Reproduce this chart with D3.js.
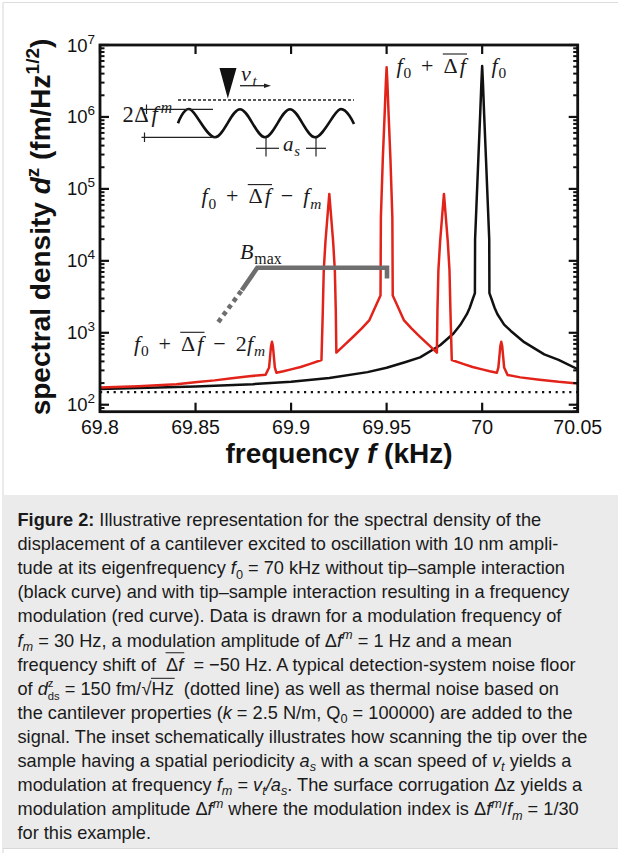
<!DOCTYPE html>
<html><head><meta charset="utf-8">
<script src="https://cdn.jsdelivr.net/npm/d3@7"></script>
<style>
body{margin:0;background:#fff;}
svg{display:block;}
text{white-space:pre;}
</style></head>
<body>
<svg id="chart" width="618" height="853"></svg>
<script>
// ---------------- data ----------------
const xDomain = [69.8, 70.05];
const yDomain = [80, 1e7];
const xTicks = [69.8, 69.85, 69.9, 69.95, 70, 70.05];
const xTickLabels = ["69.8", "69.85", "69.9", "69.95", "70", "70.05"];
const yTickExps = [2, 3, 4, 5, 6, 7];
const noiseFloor = 150;

// black curve: without tip-sample interaction
const blackF = [69.800, 69.850, 69.880, 69.900, 69.920, 69.940, 69.950, 69.960, 69.9675, 69.978, 69.985, 69.9885,
  69.992, 69.9935, 69.995, 69.9962, 69.9963, 69.997, 69.998, 69.999, 69.9996, 70.000, 70.0004, 70.001, 70.002,
  70.003, 70.0037, 70.0038, 70.005, 70.0065, 70.008, 70.0115, 70.015, 70.022, 70.0325, 70.040, 70.050];
const blackD = [166, 179, 193, 209, 235, 284, 326, 392, 455, 670, 978, 1280,
  1812, 2230, 2900, 3560, 20000, 57500, 260000, 1150000, 3000000, 5100000, 3000000, 1150000, 260000,
  57500, 20000, 3560, 2900, 2230, 1812, 1300, 1060, 740, 500, 420, 312];

// red curve: with frequency modulation
const redF = [69.800, 69.820, 69.840, 69.851, 69.860, 69.869, 69.878, 69.8867,
  69.8885, 69.8895, 69.8900, 69.8905, 69.8915, 69.8923,
  69.8960, 69.9000, 69.9050, 69.9100, 69.9159,
  69.9166, 69.9171, 69.9180, 69.9190, 69.9200, 69.9210, 69.9220, 69.9229, 69.9234, 69.9237,
  69.9280, 69.9325, 69.9370, 69.9410, 69.9450, 69.9468,
  69.9470, 69.9480, 69.9490, 69.9496, 69.9500, 69.9504, 69.9510, 69.9520, 69.9530, 69.9532,
  69.9550, 69.9590, 69.9630, 69.9675, 69.9720, 69.9763,
  69.9766, 69.9771, 69.9780, 69.9790, 69.9800, 69.9810, 69.9820, 69.9829, 69.9834, 69.9841,
  69.9900, 69.9950, 70.0000, 70.0040, 70.0077,
  70.0085, 70.0095, 70.0100, 70.0105, 70.0115, 70.0133,
  70.0200, 70.0300, 70.0400, 70.0500];
const redD = [174, 181, 193, 207, 218, 233, 248, 262,
  330, 650, 751, 650, 330, 278,
  292, 310, 335, 370, 418,
  2000, 7400, 18600, 40000, 85000, 40000, 18600, 7400, 2000, 530,
  680, 880, 1150, 1500, 2600, 3300,
  40000, 260000, 1150000, 3000000, 4900000, 3000000, 1150000, 260000, 40000, 3300,
  2600, 1500, 1150, 880, 680, 530,
  2000, 7400, 18600, 40000, 85000, 40000, 18600, 7400, 2000, 418,
  370, 335, 310, 292, 278,
  330, 650, 751, 650, 330, 259,
  240, 222, 208, 198];

// B_max bracket (annotation, in data units)
const bmaxSolidF = [69.8742, 69.8823, 69.9502, 69.9502];
const bmaxSolidD = [3900, 8000, 8000, 5700];
const bmaxDotF = [69.8619, 69.8742];
const bmaxDotD = [1410, 3900];

// ---------------- drawing ----------------
const SANS = "'Liberation Sans', Arial, Helvetica, sans-serif";
const SERIF = "'Liberation Serif', 'Times New Roman', serif";
const RED = "#e2231a";
const svg = d3.select("#chart");

// page frame and caption box
svg.append("rect").attr("x", 0).attr("y", 0).attr("width", 618).attr("height", 853).attr("fill", "#fff");
svg.append("line").attr("x1", 3).attr("x2", 618).attr("y1", 2.5).attr("y2", 2.5).attr("stroke", "#dcdcdc").attr("stroke-width", 1.2);
svg.append("line").attr("x1", 3).attr("x2", 3).attr("y1", 2.5).attr("y2", 853).attr("stroke", "#dcdcdc").attr("stroke-width", 1.2);
svg.append("rect").attr("x", 3.5).attr("y", 495).attr("width", 615).attr("height", 353).attr("fill", "#ebebeb");
svg.append("line").attr("x1", 3).attr("x2", 618).attr("y1", 848.5).attr("y2", 848.5).attr("stroke", "#d8d8d8").attr("stroke-width", 1);

const x = d3.scaleLinear().domain(xDomain).range([100, 577.7]);
const y = d3.scaleLog().domain(yDomain).range([411.7, 45]);
const [X0, X1] = x.range();
const [Y0, Y1] = y.range();

svg.append("clipPath").attr("id", "clip").append("rect")
  .attr("x", X0).attr("y", Y1).attr("width", X1 - X0).attr("height", Y0 - Y1);

const plot = svg.append("g").attr("clip-path", "url(#clip)");

// noise floor dotted line
plot.append("line").attr("x1", X0).attr("x2", X1).attr("y1", y(noiseFloor)).attr("y2", y(noiseFloor))
  .attr("stroke", "#111").attr("stroke-width", 2.2).attr("stroke-dasharray", "2.2 4.6");

const line = d3.line().x(d => x(d[0])).y(d => y(d[1]));
plot.append("path").datum(d3.zip(blackF, blackD)).attr("d", line)
  .attr("fill", "none").attr("stroke", "#111").attr("stroke-width", 2.5).attr("stroke-linejoin", "round");
plot.append("path").datum(d3.zip(redF, redD)).attr("d", line)
  .attr("fill", "none").attr("stroke", RED).attr("stroke-width", 2.5).attr("stroke-linejoin", "round");

// B_max annotation
svg.append("path").datum(d3.zip(bmaxSolidF, bmaxSolidD)).attr("d", line)
  .attr("fill", "none").attr("stroke", "#6e6e6e").attr("stroke-width", 4.6).attr("stroke-linejoin", "miter");
svg.append("path").datum(d3.zip(bmaxDotF, bmaxDotD)).attr("d", line)
  .attr("fill", "none").attr("stroke", "#6e6e6e").attr("stroke-width", 4.6).attr("stroke-dasharray", "4.5 4");

// axes frame and ticks
const ax = svg.append("g");
const minorVals = [];
for (let e = 1; e <= 6; e++) for (let m = 2; m <= 9; m++) {
  const v = m * Math.pow(10, e);
  if (v >= yDomain[0] && v <= yDomain[1]) minorVals.push(v);
}
minorVals.forEach(v => {
  ax.append("line").attr("x1", X0).attr("x2", X0 + 4.5).attr("y1", y(v)).attr("y2", y(v)).attr("stroke", "#111").attr("stroke-width", 2);
  ax.append("line").attr("x1", X1).attr("x2", X1 - 4.5).attr("y1", y(v)).attr("y2", y(v)).attr("stroke", "#111").attr("stroke-width", 2);
});
yTickExps.forEach(e => {
  const v = Math.pow(10, e);
  ax.append("line").attr("x1", X0).attr("x2", X0 + 9).attr("y1", y(v)).attr("y2", y(v)).attr("stroke", "#111").attr("stroke-width", 2.2);
  ax.append("line").attr("x1", X1).attr("x2", X1 - 9).attr("y1", y(v)).attr("y2", y(v)).attr("stroke", "#111").attr("stroke-width", 2.2);
  const t = ax.append("text").attr("x", 95).attr("y", y(v) + 6.5).attr("text-anchor", "end")
    .attr("font-family", SANS).attr("font-size", 18.5).attr("fill", "#111");
  t.append("tspan").text("10");
  t.append("tspan").attr("dy", -8).attr("font-size", 13.5).text(String(e));
});
xTicks.forEach((v, i) => {
  ax.append("line").attr("x1", x(v)).attr("x2", x(v)).attr("y1", Y0).attr("y2", Y0 - 9).attr("stroke", "#111").attr("stroke-width", 2.2);
  ax.append("line").attr("x1", x(v)).attr("x2", x(v)).attr("y1", Y1).attr("y2", Y1 + 9).attr("stroke", "#111").attr("stroke-width", 2.2);
  ax.append("text").attr("x", x(v)).attr("y", 434).attr("text-anchor", "middle")
    .attr("font-family", SANS).attr("font-size", 19.5).attr("fill", "#111").text(xTickLabels[i]);
});
ax.append("rect").attr("x", X0).attr("y", Y1).attr("width", X1 - X0).attr("height", Y0 - Y1)
  .attr("fill", "none").attr("stroke", "#111").attr("stroke-width", 2.8);

// axis titles
const xt = svg.append("text").attr("x", 339).attr("y", 463).attr("text-anchor", "middle")
  .attr("font-family", SANS).attr("font-weight", "bold").attr("font-size", 28).attr("fill", "#111");
xt.append("tspan").text("frequency ");
xt.append("tspan").attr("font-style", "italic").text("f");
xt.append("tspan").text(" (kHz)");

const yt = svg.append("text").attr("transform", "translate(50,227) rotate(-90)").attr("text-anchor", "middle")
  .attr("font-family", SANS).attr("font-weight", "bold").attr("font-size", 28).attr("fill", "#111");
yt.append("tspan").text("spectral density ");
yt.append("tspan").attr("font-style", "italic").text("d");
yt.append("tspan").attr("dy", -11).attr("font-size", 19).text("z");
yt.append("tspan").attr("dy", 11).text(" (fm/Hz");
yt.append("tspan").attr("dy", -11).attr("font-size", 19).text("1/2");
yt.append("tspan").attr("dy", 11).text(")");

// ---------------- math label helper ----------------
function mathLabel(g, x0, y0, parts, base, family, color) {
  let cx = x0, ovStart = null;
  parts.forEach(p => {
    cx += (p.gap || 0) * base;
    const small = p.sub || p.sup;
    const size = small ? base * (p.scale || 0.7) : base * (p.scale || 1);
    let dy = p.sub ? base * 0.24 : p.sup ? -base * 0.4 : 0;
    if (p.dyo !== undefined) dy = base * p.dyo;
    const t = g.append("text").attr("x", cx).attr("y", y0 + dy)
      .attr("font-family", p.family || family).attr("font-size", size)
      .attr("font-style", p.i ? "italic" : "normal").attr("font-weight", p.b ? "bold" : "normal")
      .attr("fill", color).text(p.t);
    const w = t.node().getComputedTextLength();
    if (p.ov === "s" || p.ov === "b") ovStart = cx;
    if (p.ov === "e" || p.ov === "b") {
      g.append("line").attr("x1", ovStart - base * 0.03).attr("x2", cx + w + base * 0.05)
        .attr("y1", y0 - base * (p.ovh || 0.93)).attr("y2", y0 - base * (p.ovh || 0.93))
        .attr("stroke", color).attr("stroke-width", Math.max(1, base * 0.05));
    }
    if (!p.noadv) cx += w;
  });
  return cx;
}

const ann = svg.append("g");
const C = "#1a1a1a";
const MB = 22;
const headParts = [
  {t: "f", i: true}, {t: "0", sub: true, gap: 0.04}, {t: "+", gap: 0.45}, {t: "Δ", gap: 0.45, ov: "s"}, {t: "f", i: true, gap: 0.1, ov: "e", ovh: 0.85}
];
// f0 + Δf (main red peak)
mathLabel(ann, 396.5, 72.7, headParts, MB, SERIF, C);
// f0 (black peak)
mathLabel(ann, 491.5, 72.7, [{t: "f", i: true}, {t: "0", sub: true, gap: 0.04}], MB, SERIF, C);
// f0 + Δf − fm
mathLabel(ann, 201.5, 203.3, headParts.concat([
  {t: "−", gap: 0.45}, {t: "f", i: true, gap: 0.45}, {t: "m", i: true, sub: true, gap: 0.04}
]), MB, SERIF, C);
// f0 + Δf − 2fm
mathLabel(ann, 134, 351, headParts.concat([
  {t: "−", gap: 0.45}, {t: "2", gap: 0.45}, {t: "f", i: true, gap: 0.02}, {t: "m", i: true, sub: true, gap: 0.04}
]), MB, SERIF, C);
// B_max
mathLabel(ann, 240, 259, [{t: "B", i: true}, {t: "max", sub: true, gap: 0.04, scale: 0.72}], MB, SERIF, C);

// ---------------- inset schematic ----------------
const ins = svg.append("g");
ins.append("line").attr("x1", 178).attr("x2", 354).attr("y1", 100).attr("y2", 100)
  .attr("stroke", "#222").attr("stroke-width", 1.4).attr("stroke-dasharray", "3 2");
ins.append("path").attr("d", "M219.5,68 L236.5,68 L227.8,98.5 Z").attr("fill", "#111");
ins.append("line").attr("x1", 240).attr("x2", 266).attr("y1", 85.7).attr("y2", 85.7).attr("stroke", "#222").attr("stroke-width", 1.3);
ins.append("path").attr("d", "M271,85.7 L264,83.4 L264,88 Z").attr("fill", "#222");
mathLabel(ins, 241, 80.5, [{t: "v", i: true}, {t: "t", i: true, sub: true, gap: 0.08}], MB, SERIF, C);
const wavePts = [[178, 123.3], [190, 109.3], [215, 137.3], [240, 109.3], [265, 137.3], [290, 109.3], [315, 137.3], [340, 109.3], [354, 124]];
ins.append("path").attr("d", d3.line().curve(d3.curveCatmullRom.alpha(0))(wavePts))
  .attr("fill", "none").attr("stroke", "#111").attr("stroke-width", 2.6);
// amplitude markers
ins.append("line").attr("x1", 141.5).attr("x2", 213).attr("y1", 109.3).attr("y2", 109.3).attr("stroke", "#222").attr("stroke-width", 1.2);
ins.append("line").attr("x1", 141.5).attr("x2", 216).attr("y1", 137.3).attr("y2", 137.3).attr("stroke", "#222").attr("stroke-width", 1.2);
ins.append("line").attr("x1", 146.5).attr("x2", 146.5).attr("y1", 104.5).attr("y2", 114).attr("stroke", "#222").attr("stroke-width", 1.2);
ins.append("line").attr("x1", 144.5).attr("x2", 144.5).attr("y1", 132.5).attr("y2", 142).attr("stroke", "#222").attr("stroke-width", 1.2);
mathLabel(ins, 122.5, 122, [{t: "2"}, {t: "Δ", gap: 0.02}, {t: "f", i: true, gap: 0.12}, {t: "m", i: true, sup: true, gap: 0.14}], 22.5, SERIF, C);
// a_s markers
[266, 316].forEach(cxp => {
  ins.append("line").attr("x1", cxp).attr("x2", cxp).attr("y1", 137.3).attr("y2", 156.5).attr("stroke", "#222").attr("stroke-width", 1.2);
});
ins.append("line").attr("x1", 256).attr("x2", 279).attr("y1", 148.3).attr("y2", 148.3).attr("stroke", "#222").attr("stroke-width", 1.2);
ins.append("line").attr("x1", 306).attr("x2", 326).attr("y1", 148.3).attr("y2", 148.3).attr("stroke", "#222").attr("stroke-width", 1.2);
mathLabel(ins, 283, 150.5, [{t: "a", i: true}, {t: "s", i: true, sub: true, gap: 0.04}], 21, SERIF, C);

// ---------------- caption ----------------
const cap = svg.append("g");
const CF = 18.2, LH = 24.1, CX = 17.5, CY = 526;
const capLines = [
  [{t: "Figure 2:", b: true}, {t: " Illustrative representation for the spectral density of the"}],
  [{t: "displacement of a cantilever excited to oscillation with 10 nm ampli-"}],
  [{t: "tude at its eigenfrequency "}, {t: "f", i: true}, {t: "0", sub: true}, {t: " = 70 kHz without tip–sample interaction"}],
  [{t: "(black curve) and with tip–sample interaction resulting in a frequency"}],
  [{t: "modulation (red curve). Data is drawn for a modulation frequency of"}],
  [{t: "f", i: true}, {t: "m", i: true, sub: true}, {t: " = 30 Hz, a modulation amplitude of Δ"}, {t: "f", i: true}, {t: "m", i: true, sup: true}, {t: " = 1 Hz and a mean"}],
  [{t: "frequency shift of  "}, {t: "Δ", ov: "s", ovh: 0.98}, {t: "f", i: true, ov: "e", ovh: 0.98}, {t: "  = −50 Hz. A typical detection-system noise floor"}],
  [{t: "of "}, {t: "d", i: true}, {t: "z", sup: true, noadv: true, dyo: -0.44, scale: 0.62}, {t: "ds", sub: true, dyo: 0.28, scale: 0.62}, {t: " = 150 fm/"}, {t: "√", gap: 0.02}, {t: "Hz", ov: "b", ovh: 0.9}, {t: "  (dotted line) as well as thermal noise based on"}],
  [{t: "the cantilever properties ("}, {t: "k", i: true}, {t: " = 2.5 N/m, Q"}, {t: "0", sub: true}, {t: " = 100000) are added to the"}],
  [{t: "signal. The inset schematically illustrates how scanning the tip over the"}],
  [{t: "sample having a spatial periodicity "}, {t: "a", i: true}, {t: "s", i: true, sub: true}, {t: " with a scan speed of "}, {t: "v", i: true}, {t: "t", i: true, sub: true}, {t: " yields a"}],
  [{t: "modulation at frequency "}, {t: "f", i: true}, {t: "m", i: true, sub: true}, {t: " = "}, {t: "v", i: true}, {t: "t", i: true, sub: true}, {t: "/", i: true}, {t: "a", i: true}, {t: "s", i: true, sub: true}, {t: ". The surface corrugation Δz yields a"}],
  [{t: "modulation amplitude Δ"}, {t: "f", i: true}, {t: "m", i: true, sup: true}, {t: " where the modulation index is Δ"}, {t: "f", i: true}, {t: "m", i: true, sup: true}, {t: "/"}, {t: "f", i: true}, {t: "m", i: true, sub: true}, {t: " = 1/30"}],
  [{t: "for this example."}]
];
capLines.forEach((parts, k) => {
  mathLabel(cap, CX, CY + k * LH, parts, CF, SANS, "#1a1a1a");
});
</script>
</body></html>
